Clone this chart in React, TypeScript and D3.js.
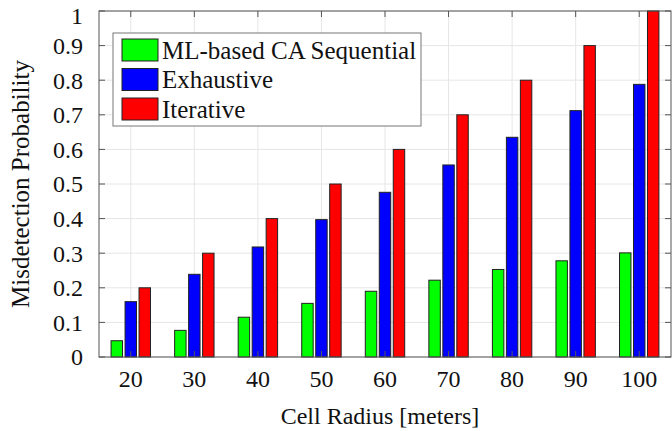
import React, { useEffect, useRef } from 'react';
import * as d3 from 'd3';

const radii = [20, 30, 40, 50, 60, 70, 80, 90, 100];
const mlSequential = [0.047, 0.077, 0.115, 0.155, 0.19, 0.222, 0.253, 0.278, 0.301];
const exhaustive = [0.16, 0.239, 0.318, 0.397, 0.476, 0.555, 0.635, 0.712, 0.788];
const iterative = [0.2, 0.3, 0.4, 0.5, 0.6, 0.7, 0.8, 0.9, 1.0];
const seriesNames = ['ML-based CA Sequential', 'Exhaustive', 'Iterative'];
const seriesColors = ['#00ff00', '#0000ff', '#ff0000'];
const yTicks = [0, 0.1, 0.2, 0.3, 0.4, 0.5, 0.6, 0.7, 0.8, 0.9, 1];

const App = () => {
    const chartRef = useRef<SVGSVGElement>(null);

    useEffect(() => {
        const width = 672;
        const height = 431;
        const margin = { top: 11, right: 1, bottom: 74, left: 99 };
        const font = '"Liberation Serif", "Times New Roman", serif';

        const svg = d3.select(chartRef.current);
        svg.selectAll('*').remove();

        const x = d3.scaleLinear().domain([15, 105]).range([margin.left, width - margin.right]);
        const y = d3.scaleLinear().domain([0, 1]).range([height - margin.bottom, margin.top]);

        const series = [mlSequential, exhaustive, iterative];
        const barW = 1.8;   // in data units
        const offset = 2.2;

        // grid
        svg.append('g')
            .selectAll('line.v')
            .data(radii)
            .enter().append('line')
            .attr('x1', d => x(d)).attr('x2', d => x(d))
            .attr('y1', y(0)).attr('y2', y(1))
            .attr('stroke', '#e6e6e6')
            .attr('stroke-width', 1);
        svg.append('g')
            .selectAll('line.h')
            .data(yTicks)
            .enter().append('line')
            .attr('x1', x(15)).attr('x2', x(105))
            .attr('y1', d => y(d)).attr('y2', d => y(d))
            .attr('stroke', '#e6e6e6')
            .attr('stroke-width', 1);

        // bars
        series.forEach((vals, i) => {
            svg.append('g')
                .selectAll('rect')
                .data(vals)
                .enter().append('rect')
                .attr('x', (d, j) => x(radii[j] + (i - 1) * offset - barW / 2))
                .attr('width', x(barW) - x(0))
                .attr('y', d => y(d))
                .attr('height', d => y(0) - y(d))
                .attr('fill', seriesColors[i])
                .attr('stroke', '#222')
                .attr('stroke-width', 1);
        });

        // axes box + inward ticks
        const axisColor = '#555';
        svg.append('rect')
            .attr('x', x(15)).attr('y', y(1))
            .attr('width', x(105) - x(15)).attr('height', y(0) - y(1))
            .attr('fill', 'none')
            .attr('stroke', axisColor)
            .attr('stroke-width', 1);

        const tick = 6;
        const tg = svg.append('g').attr('stroke', axisColor).attr('stroke-width', 1);
        radii.forEach(r => {
            tg.append('line').attr('x1', x(r)).attr('x2', x(r)).attr('y1', y(0)).attr('y2', y(0) - tick);
            tg.append('line').attr('x1', x(r)).attr('x2', x(r)).attr('y1', y(1)).attr('y2', y(1) + tick);
        });
        yTicks.forEach(t => {
            tg.append('line').attr('x1', x(15)).attr('x2', x(15) + tick).attr('y1', y(t)).attr('y2', y(t));
            tg.append('line').attr('x1', x(105)).attr('x2', x(105) - tick).attr('y1', y(t)).attr('y2', y(t));
        });

        // tick labels
        svg.append('g')
            .selectAll('text')
            .data(yTicks)
            .enter().append('text')
            .attr('x', 83)
            .attr('y', d => Math.max(y(d), 16))
            .attr('dy', '0.35em')
            .attr('text-anchor', 'end')
            .style('font-family', font)
            .style('font-size', '24px')
            .style('fill', '#111')
            .text(d => d3.format('~g')(d));

        svg.append('g')
            .selectAll('text')
            .data(radii)
            .enter().append('text')
            .attr('x', d => x(d))
            .attr('y', 387)
            .attr('text-anchor', 'middle')
            .style('font-family', font)
            .style('font-size', '24px')
            .style('fill', '#111')
            .text(d => d);

        // axis titles
        svg.append('text')
            .attr('x', 380)
            .attr('y', 424)
            .attr('text-anchor', 'middle')
            .style('font-family', font)
            .style('font-size', '24px')
            .style('fill', '#111')
            .text('Cell Radius [meters]');

        svg.append('text')
            .attr('transform', `translate(29, ${(y(0) + y(1)) / 2}) rotate(-90)`)
            .attr('text-anchor', 'middle')
            .style('font-family', font)
            .style('font-size', '25px')
            .style('fill', '#111')
            .text('Misdetection Probability');

        // legend
        const lg = svg.append('g');
        lg.append('rect')
            .attr('x', 113).attr('y', 33)
            .attr('width', 308).attr('height', 93)
            .attr('fill', '#fff')
            .attr('stroke', '#777')
            .attr('stroke-width', 1);
        seriesNames.forEach((name, i) => {
            const ry = 39 + i * 29.5;
            lg.append('rect')
                .attr('x', 122).attr('y', ry)
                .attr('width', 36).attr('height', 22)
                .attr('fill', seriesColors[i])
                .attr('stroke', '#222')
                .attr('stroke-width', 1);
            lg.append('text')
                .attr('x', 162).attr('y', ry + 11)
                .attr('dy', '0.35em')
                .style('font-family', font)
                .style('font-size', '25px')
                .style('fill', '#111')
                .text(name);
        });
    }, []);

    return (
        <svg
            ref={chartRef}
            width={672}
            height={431}
            style={{ position: 'absolute', left: 0, top: 0, background: '#fff' }}
        />
    );
};

export default App;
